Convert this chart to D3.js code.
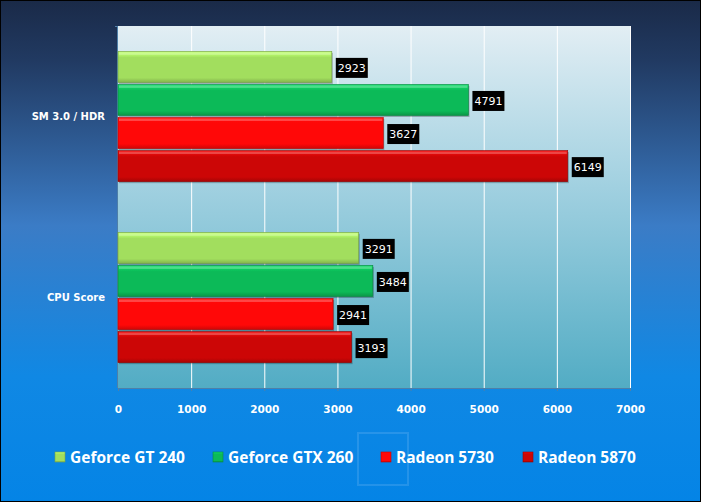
<!DOCTYPE html>
<html><head><meta charset="utf-8">
<script src="https://cdn.jsdelivr.net/npm/d3@7"></script>
<style>html,body{margin:0;padding:0;background:#fff}svg{display:block}</style>
</head><body>
<script>
const categories = ["SM 3.0 / HDR", "CPU Score"];
const seriesNames = ["Geforce GT 240", "Geforce GTX 260", "Radeon 5730", "Radeon 5870"];
const seriesColors = ["#a2de5e", "#0cba58", "#ff0808", "#cc0606"];
const valuesGT240 = [2923, 3291];
const valuesGTX260 = [4791, 3484];
const valuesR5730 = [3627, 2941];
const valuesR5870 = [6149, 3193];
const xTicks = [0, 1000, 2000, 3000, 4000, 5000, 6000, 7000];

const series = [valuesGT240, valuesGTX260, valuesR5730, valuesR5870];
const W = 701, H = 502;
const svg = d3.select("body").append("svg").attr("width", W).attr("height", H);
const defs = svg.append("defs");

const bg = defs.append("linearGradient").attr("id","bg").attr("x1",0).attr("y1",0).attr("x2",0).attr("y2",1);
bg.append("stop").attr("offset","0").attr("stop-color","#1a2a48");
bg.append("stop").attr("offset","0.12").attr("stop-color","#213a62");
bg.append("stop").attr("offset","0.45").attr("stop-color","#3b7cc6");
bg.append("stop").attr("offset","0.75").attr("stop-color","#1088e4");
bg.append("stop").attr("offset","1").attr("stop-color","#0484e6");

const pg = defs.append("linearGradient").attr("id","pg").attr("x1",0).attr("y1",0).attr("x2",0).attr("y2",1);
pg.append("stop").attr("offset","0").attr("stop-color","#e2eef4");
pg.append("stop").attr("offset","0.45").attr("stop-color","#a0d0e0");
pg.append("stop").attr("offset","1").attr("stop-color","#52acc4");

seriesColors.forEach((c,i)=>{
  const g = defs.append("linearGradient").attr("id","bar"+i).attr("x1",0).attr("y1",0).attr("x2",0).attr("y2",1);
  g.append("stop").attr("offset","0").attr("stop-color", d3.color(c).brighter(0.5));
  g.append("stop").attr("offset","0.12").attr("stop-color", d3.color(c).brighter(0.25));
  g.append("stop").attr("offset","0.2").attr("stop-color", c);
  g.append("stop").attr("offset","0.85").attr("stop-color", c);
  g.append("stop").attr("offset","1").attr("stop-color", d3.color(c).darker(0.6));
});

svg.append("rect").attr("x",0.5).attr("y",0.5).attr("width",W-1).attr("height",H-1)
  .attr("fill","url(#bg)").attr("stroke","#000").attr("stroke-width",1);

const pLeft = 118, pRight = 630, pTop = 26, pBottom = 388;
const x = d3.scaleLinear().domain([0, 7000]).range([pLeft, pRight]);
const y0 = d3.scaleBand().domain(categories).range([pTop, pBottom]).paddingInner(0.28).paddingOuter(0.14);
const y1 = d3.scaleBand().domain(d3.range(4)).range([0, y0.bandwidth()]).paddingInner(0.06);

svg.append("rect").attr("x",pLeft).attr("y",pTop).attr("width",pRight-pLeft).attr("height",pBottom-pTop).attr("fill","url(#pg)");

svg.append("g").selectAll("line").data(xTicks.slice(1)).join("line")
  .attr("x1",d=>x(d)+0.5).attr("x2",d=>x(d)+0.5).attr("y1",pTop).attr("y2",pBottom)
  .attr("stroke","#ffffff").attr("stroke-width",1);

const xAxis = svg.append("g").attr("transform",`translate(0,${pBottom})`)
  .call(d3.axisBottom(x).tickValues(xTicks).tickFormat(d3.format("d")).tickSize(3).tickPadding(15));
xAxis.select(".domain").attr("stroke","#4e7fa8");
xAxis.selectAll(".tick line").attr("stroke","#4e7fa8");
xAxis.selectAll("text").attr("fill","#fff").attr("font-family","DejaVu Sans").attr("font-weight","bold").attr("font-size","10.5px");

svg.append("line").attr("x1",pLeft-0.5).attr("x2",pLeft-0.5).attr("y1",pTop).attr("y2",pBottom).attr("stroke","#4e7fa8");
svg.append("line").attr("x1",pLeft-3).attr("x2",pLeft).attr("y1",pTop+0.5).attr("y2",pTop+0.5).attr("stroke","#4e7fa8");

svg.append("g").selectAll("text").data(categories).join("text")
  .attr("x",105).attr("y",d=>y0(d)+y0.bandwidth()/2).attr("dy","0.35em").attr("text-anchor","end")
  .attr("fill","#fff").attr("font-family","DejaVu Sans").attr("font-weight","bold").attr("font-size","10px")
  .text(d=>d);

const gBars = svg.append("g");
categories.forEach((cat, ci)=>{
  series.forEach((vals, si)=>{
    const v = vals[ci];
    const yy = y0(cat) + y1(si);
    const h = y1.bandwidth();
    const x0 = x(0), x1v = x(v);
    const b = gBars.append("g");
    b.append("rect").attr("x",x0+1).attr("y",yy+1.5).attr("width",x1v-x0).attr("height",h).attr("fill","rgba(0,0,0,0.25)");
    b.append("rect").attr("x",x0).attr("y",yy).attr("width",x1v-x0).attr("height",h).attr("fill",`url(#bar${si})`)
      .attr("stroke",d3.color(seriesColors[si]).darker(0.9)).attr("stroke-width",0.6);
    b.append("rect").attr("x",x0+1).attr("y",yy+1).attr("width",Math.max(0,x1v-x0-2)).attr("height",2.5).attr("fill","rgba(255,255,255,0.25)");
    const lbl = String(v);
    const bw = 32, bh = 20;
    b.append("rect").attr("x",x1v+4).attr("y",yy+h/2-bh/2+1).attr("width",bw).attr("height",bh).attr("fill","#000");
    b.append("text").attr("x",x1v+4+bw/2).attr("y",yy+h/2+1).attr("dy","0.36em").attr("text-anchor","middle")
      .attr("fill","#fff").attr("font-family","DejaVu Sans").attr("font-size","11px").text(lbl);
  });
});

// faint watermark frame
svg.append("rect").attr("x",358).attr("y",433).attr("width",50).attr("height",52).attr("fill","none")
  .attr("stroke","#cfe6ff").attr("stroke-width",2).attr("opacity",0.15);

const legX = [55, 213, 381, 523];
const lg = svg.append("g");
seriesNames.forEach((n,i)=>{
  const g = lg.append("g").attr("transform",`translate(${legX[i]},457)`);
  g.append("rect").attr("x",0).attr("y",-5).attr("width",10).attr("height",10).attr("fill",`url(#bar${i})`).attr("stroke",d3.color(seriesColors[i]).darker(0.8)).attr("stroke-width",0.6);
  g.append("text").attr("x",15).attr("y",0).attr("dy","0.36em").attr("fill","#fff")
    .attr("font-family","Open Sans").attr("font-weight","bold").attr("font-size","15.5px").text(n);
});
</script>
</body></html>
